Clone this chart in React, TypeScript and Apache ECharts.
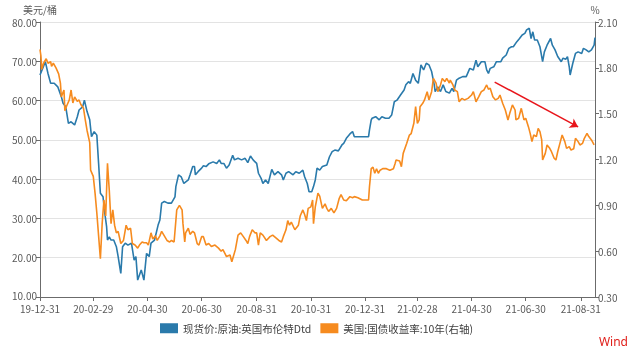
import React, { useEffect, useRef } from 'react';
import * as echarts from 'echarts';

const startDate = '2019-12-31';
const endDate = '2021-09-16';
const xTickDates = ['2019-12-31', '2020-02-29', '2020-04-30', '2020-06-30', '2020-08-31', '2020-10-31', '2020-12-31', '2021-02-28', '2021-04-30', '2021-06-30', '2021-08-31'];

const brentName = '现货价:原油:英国布伦特Dtd';
const yieldName = '美国:国债收益率:10年(右轴)';

const brentDates = [
  '2019-12-31', '2020-01-03', '2020-01-06', '2020-01-09', '2020-01-12', '2020-01-16', '2020-01-20', '2020-01-24', '2020-01-26', '2020-01-29',
  '2020-02-01', '2020-02-04', '2020-02-08', '2020-02-11', '2020-02-13', '2020-02-17', '2020-02-19', '2020-02-22', '2020-02-25', '2020-02-27',
  '2020-03-01', '2020-03-04', '2020-03-06', '2020-03-08', '2020-03-11', '2020-03-13', '2020-03-15', '2020-03-16', '2020-03-18', '2020-03-20',
  '2020-03-23', '2020-03-26', '2020-03-28', '2020-03-31', '2020-04-02', '2020-04-05', '2020-04-08', '2020-04-12', '2020-04-15', '2020-04-17',
  '2020-04-19', '2020-04-23', '2020-04-26', '2020-04-29', '2020-05-02', '2020-05-04', '2020-05-08', '2020-05-12', '2020-05-14', '2020-05-16',
  '2020-05-19', '2020-05-23', '2020-05-27', '2020-05-31', '2020-06-01', '2020-06-04', '2020-06-07', '2020-06-10', '2020-06-15', '2020-06-17',
  '2020-06-20', '2020-06-22', '2020-06-23', '2020-06-26', '2020-06-30', '2020-07-02', '2020-07-05', '2020-07-08', '2020-07-13', '2020-07-17',
  '2020-07-20', '2020-07-22', '2020-07-25', '2020-07-28', '2020-07-31', '2020-08-04', '2020-08-06', '2020-08-10', '2020-08-14', '2020-08-18',
  '2020-08-21', '2020-08-24', '2020-08-27', '2020-08-31', '2020-09-02', '2020-09-05', '2020-09-07', '2020-09-10', '2020-09-13', '2020-09-17',
  '2020-09-20', '2020-09-24', '2020-09-28', '2020-09-30', '2020-10-03', '2020-10-06', '2020-10-11', '2020-10-14', '2020-10-18', '2020-10-22',
  '2020-10-24', '2020-10-27', '2020-10-29', '2020-11-01', '2020-11-03', '2020-11-05', '2020-11-07', '2020-11-10', '2020-11-13', '2020-11-18',
  '2020-11-21', '2020-11-24', '2020-11-27', '2020-12-01', '2020-12-05', '2020-12-07', '2020-12-10', '2020-12-14', '2020-12-17', '2020-12-19',
  '2020-12-28', '2021-01-04', '2021-01-05', '2021-01-07', '2021-01-08', '2021-01-12', '2021-01-16', '2021-01-19', '2021-01-23', '2021-01-27',
  '2021-01-30', '2021-02-02', '2021-02-05', '2021-02-09', '2021-02-13', '2021-02-15', '2021-02-18', '2021-02-20', '2021-02-23', '2021-02-26',
  '2021-03-01', '2021-03-04', '2021-03-07', '2021-03-10', '2021-03-13', '2021-03-16', '2021-03-19', '2021-03-20', '2021-03-23', '2021-03-26',
  '2021-03-29', '2021-04-01', '2021-04-05', '2021-04-08', '2021-04-10', '2021-04-13', '2021-04-16', '2021-04-20', '2021-04-24', '2021-04-28',
  '2021-05-02', '2021-05-05', '2021-05-07', '2021-05-11', '2021-05-15', '2021-05-17', '2021-05-19', '2021-05-21', '2021-05-25', '2021-05-28',
  '2021-06-02', '2021-06-04', '2021-06-08', '2021-06-11', '2021-06-14', '2021-06-16', '2021-06-20', '2021-06-23', '2021-06-26', '2021-06-29',
  '2021-07-01', '2021-07-04', '2021-07-06', '2021-07-08', '2021-07-10', '2021-07-13', '2021-07-16', '2021-07-19', '2021-07-21', '2021-07-24',
  '2021-07-28', '2021-07-30', '2021-08-02', '2021-08-05', '2021-08-09', '2021-08-11', '2021-08-14', '2021-08-16', '2021-08-18', '2021-08-19',
  '2021-08-22', '2021-08-25', '2021-08-28', '2021-09-01', '2021-09-03', '2021-09-06', '2021-09-09', '2021-09-12', '2021-09-15', '2021-09-16',
];
const brentValues = [
  66.5, 68.2, 69.9, 66.9, 64.4, 64.4, 63.5, 61.0, 59.3, 58.4,
  54.2, 54.6, 53.8, 55.9, 57.6, 58.4, 60.1, 57.2, 55.1, 50.8,
  52.1, 51.2, 44.0, 36.4, 35.5, 31.3, 27.9, 24.5, 25.3, 24.5,
  24.5, 22.8, 20.3, 16.0, 22.8, 23.7, 23.2, 23.7, 19.4, 20.3,
  14.3, 16.9, 14.3, 21.1, 20.3, 23.7, 24.5, 28.3, 29.6, 33.9,
  34.3, 33.9, 33.9, 35.5, 38.1, 41.1, 40.6, 38.9, 39.8, 41.1,
  43.2, 43.2, 41.1, 41.9, 42.8, 43.4, 43.2, 43.9, 44.4, 44.0,
  44.9, 44.0, 44.0, 42.8, 43.6, 46.1, 44.9, 45.3, 44.9, 45.3,
  44.2, 45.9, 44.9, 44.0, 41.5, 40.2, 38.9, 39.8, 38.9, 42.5,
  41.1, 41.9, 41.1, 39.8, 41.5, 41.9, 41.1, 41.9, 41.5, 42.3,
  40.6, 38.9, 36.8, 36.8, 38.1, 39.8, 42.8, 42.3, 43.2, 43.6,
  45.7, 47.0, 47.4, 47.2, 48.7, 49.1, 50.4, 51.5, 52.1, 50.8,
  50.8, 50.8, 52.5, 55.1, 55.5, 55.9, 55.1, 55.9, 55.5, 55.5,
  56.3, 59.7, 60.1, 61.4, 62.7, 64.0, 64.8, 64.4, 66.9, 65.2,
  64.4, 69.1, 67.8, 69.5, 69.1, 67.4, 64.0, 62.3, 63.5, 62.3,
  64.0, 62.3, 61.9, 63.1, 62.3, 65.2, 65.7, 66.1, 66.1, 68.2,
  67.8, 70.3, 68.6, 69.9, 69.9, 67.8, 66.9, 68.2, 68.6, 69.9,
  69.9, 70.8, 71.6, 73.3, 73.7, 73.7, 75.0, 75.8, 76.7, 77.1,
  78.0, 78.4, 75.8, 77.5, 75.4, 75.4, 73.7, 69.9, 72.4, 74.1,
  75.8, 74.1, 72.9, 71.2, 69.9, 70.8, 70.5, 71.2, 68.6, 66.5,
  69.5, 72.0, 72.4, 72.0, 73.3, 72.9, 72.4, 72.9, 74.1, 76.0,
];

const yieldDates = [
  '2019-12-31', '2020-01-01', '2020-01-02', '2020-01-04', '2020-01-07', '2020-01-09', '2020-01-12', '2020-01-13', '2020-01-15', '2020-01-18',
  '2020-01-21', '2020-01-23', '2020-01-24', '2020-01-27', '2020-01-28', '2020-01-30', '2020-02-02', '2020-02-04', '2020-02-06', '2020-02-08',
  '2020-02-11', '2020-02-13', '2020-02-15', '2020-02-18', '2020-02-20', '2020-02-22', '2020-02-25', '2020-02-26', '2020-02-29', '2020-03-02',
  '2020-03-04', '2020-03-06', '2020-03-08', '2020-03-10', '2020-03-12', '2020-03-14', '2020-03-16', '2020-03-18', '2020-03-20', '2020-03-22',
  '2020-03-24', '2020-03-26', '2020-03-28', '2020-03-31', '2020-04-03', '2020-04-06', '2020-04-08', '2020-04-11', '2020-04-13', '2020-04-16',
  '2020-04-19', '2020-04-21', '2020-04-24', '2020-04-26', '2020-04-29', '2020-05-01', '2020-05-04', '2020-05-06', '2020-05-09', '2020-05-11',
  '2020-05-14', '2020-05-16', '2020-05-19', '2020-05-22', '2020-05-25', '2020-05-27', '2020-05-30', '2020-06-02', '2020-06-05', '2020-06-08',
  '2020-06-09', '2020-06-11', '2020-06-12', '2020-06-15', '2020-06-17', '2020-06-20', '2020-06-22', '2020-06-25', '2020-06-27', '2020-06-30',
  '2020-07-02', '2020-07-05', '2020-07-08', '2020-07-11', '2020-07-15', '2020-07-19', '2020-07-22', '2020-07-24', '2020-07-28', '2020-08-01',
  '2020-08-03', '2020-08-04', '2020-08-07', '2020-08-10', '2020-08-13', '2020-08-16', '2020-08-19', '2020-08-21', '2020-08-23', '2020-08-26',
  '2020-08-29', '2020-08-31', '2020-09-02', '2020-09-04', '2020-09-07', '2020-09-11', '2020-09-15', '2020-09-18', '2020-09-22', '2020-09-25',
  '2020-09-28', '2020-09-30', '2020-10-03', '2020-10-05', '2020-10-07', '2020-10-09', '2020-10-13', '2020-10-17', '2020-10-19', '2020-10-22',
  '2020-10-24', '2020-10-26', '2020-10-28', '2020-10-31', '2020-11-02', '2020-11-03', '2020-11-05', '2020-11-08', '2020-11-10', '2020-11-13',
  '2020-11-16', '2020-11-18', '2020-11-20', '2020-11-23', '2020-11-26', '2020-11-29', '2020-12-02', '2020-12-04', '2020-12-07', '2020-12-10',
  '2020-12-14', '2020-12-17', '2020-12-19', '2020-12-23', '2020-12-28', '2021-01-04', '2021-01-05', '2021-01-07', '2021-01-09', '2021-01-11',
  '2021-01-13', '2021-01-15', '2021-01-17', '2021-01-20', '2021-01-24', '2021-01-28', '2021-02-01', '2021-02-03', '2021-02-04', '2021-02-08',
  '2021-02-10', '2021-02-12', '2021-02-16', '2021-02-19', '2021-02-21', '2021-02-24', '2021-02-26', '2021-02-28', '2021-03-02', '2021-03-03',
  '2021-03-06', '2021-03-08', '2021-03-11', '2021-03-13', '2021-03-16', '2021-03-18', '2021-03-21', '2021-03-23', '2021-03-26', '2021-03-28',
  '2021-03-31', '2021-04-02', '2021-04-05', '2021-04-06', '2021-04-09', '2021-04-11', '2021-04-14', '2021-04-16', '2021-04-19', '2021-04-22',
  '2021-04-26', '2021-04-30', '2021-05-02', '2021-05-05', '2021-05-08', '2021-05-11', '2021-05-14', '2021-05-17', '2021-05-19', '2021-05-21',
  '2021-05-24', '2021-05-27', '2021-05-30', '2021-06-01', '2021-06-04', '2021-06-07', '2021-06-10', '2021-06-12', '2021-06-15', '2021-06-18',
  '2021-06-19', '2021-06-22', '2021-06-25', '2021-06-28', '2021-06-30', '2021-07-03', '2021-07-05', '2021-07-07', '2021-07-09', '2021-07-12',
  '2021-07-14', '2021-07-16', '2021-07-18', '2021-07-19', '2021-07-22', '2021-07-24', '2021-07-27', '2021-07-29', '2021-08-01', '2021-08-03',
  '2021-08-05', '2021-08-08', '2021-08-10', '2021-08-13', '2021-08-15', '2021-08-18', '2021-08-20', '2021-08-23', '2021-08-25', '2021-08-28',
  '2021-08-30', '2021-09-02', '2021-09-04', '2021-09-07', '2021-09-09', '2021-09-12', '2021-09-15',
];
const yieldValues = [
  1.92, 1.88, 1.79, 1.83, 1.86, 1.83, 1.84, 1.81, 1.83, 1.80,
  1.76, 1.70, 1.61, 1.655, 1.52, 1.55, 1.59, 1.655, 1.57, 1.61,
  1.58, 1.59, 1.56, 1.535, 1.46, 1.39, 1.31, 1.13, 1.09, 0.98,
  0.85, 0.70, 0.55, 0.78, 0.935, 0.83, 1.175, 1.00, 0.78, 0.87,
  0.77, 0.72, 0.73, 0.65, 0.67, 0.77, 0.74, 0.75, 0.65, 0.64,
  0.62, 0.64, 0.66, 0.655, 0.655, 0.64, 0.72, 0.68, 0.70, 0.67,
  0.70, 0.73, 0.70, 0.67, 0.66, 0.67, 0.66, 0.87, 0.90, 0.87,
  0.78, 0.66, 0.72, 0.75, 0.71, 0.73, 0.72, 0.65, 0.64, 0.695,
  0.695, 0.64, 0.65, 0.63, 0.64, 0.62, 0.60, 0.61, 0.565, 0.575,
  0.53, 0.55, 0.61, 0.705, 0.72, 0.695, 0.67, 0.65, 0.695, 0.74,
  0.72, 0.72, 0.64, 0.72, 0.705, 0.67, 0.695, 0.705, 0.685, 0.67,
  0.66, 0.695, 0.74, 0.80, 0.77, 0.79, 0.74, 0.77, 0.83, 0.87,
  0.84, 0.80, 0.88, 0.89, 0.935, 0.78, 0.89, 0.98, 0.96, 0.88,
  0.91, 0.88, 0.86, 0.88, 0.85, 0.88, 0.946, 0.97, 0.935, 0.93,
  0.957, 0.95, 0.957, 0.95, 0.935, 0.935, 1.02, 1.14, 1.15, 1.11,
  1.14, 1.11, 1.13, 1.14, 1.14, 1.13, 1.14, 1.175, 1.197, 1.19,
  1.153, 1.24, 1.306, 1.36, 1.37, 1.437, 1.546, 1.437, 1.459, 1.546,
  1.568, 1.59, 1.644, 1.59, 1.644, 1.731, 1.70, 1.644, 1.688, 1.731,
  1.709, 1.731, 1.70, 1.72, 1.688, 1.655, 1.644, 1.578, 1.60, 1.59,
  1.60, 1.622, 1.644, 1.578, 1.61, 1.644, 1.655, 1.688, 1.66, 1.666,
  1.611, 1.59, 1.60, 1.622, 1.568, 1.524, 1.459, 1.502, 1.557, 1.524,
  1.459, 1.47, 1.535, 1.459, 1.47, 1.415, 1.371, 1.317, 1.36, 1.35,
  1.404, 1.382, 1.328, 1.197, 1.24, 1.295, 1.273, 1.251, 1.208, 1.197,
  1.251, 1.317, 1.36, 1.317, 1.273, 1.284, 1.262, 1.27, 1.339, 1.317,
  1.295, 1.306, 1.339, 1.371, 1.35, 1.328, 1.295,
];

const arrowFrom = ['2021-05-26', 1.707];
const arrowTo = ['2021-08-28', 1.413];

const BLUE = '#2a7aab';
const ORANGE = '#f68b1f';
const FONT = "'Microsoft YaHei','Noto Sans CJK SC',sans-serif";

function buildDays(start: string, end: string): string[] {
  const out: string[] = [];
  const s = Date.parse(start + 'T00:00:00Z');
  const e = Date.parse(end + 'T00:00:00Z');
  for (let t = s; t <= e; t += 86400000) out.push(new Date(t).toISOString().slice(0, 10));
  return out;
}

export default function App() {
  const ref = useRef<HTMLDivElement>(null);
  useEffect(() => {
    if (!ref.current) return;
    const chart = echarts.init(ref.current, undefined, { renderer: 'svg' });
    const days = buildDays(startDate, endDate);
    const tickSet = new Set(xTickDates);
    const showTick = (_i: number, v: string) => tickSet.has(v);
    const axisGray = '#6b6b6b';
    const labelGray = '#595959';
    chart.setOption({
      animation: false,
      textStyle: { fontFamily: FONT },
      grid: { left: 40, right: 45, top: 22, bottom: 56, containLabel: false },
      legend: {
        left: 160,
        top: 323,
        padding: 0,
        icon: 'rect',
        itemWidth: 18,
        itemHeight: 10,
        itemGap: 9,
        textStyle: { fontSize: 10.5, color: '#404040', fontFamily: FONT },
        data: [brentName, yieldName],
      },
      xAxis: {
        type: 'category',
        data: days,
        boundaryGap: false,
        axisLine: { lineStyle: { color: axisGray } },
        axisTick: { interval: showTick, length: 4, lineStyle: { color: axisGray } },
        axisLabel: {
          interval: showTick,
          formatter: (v: string) => v.slice(2),
          color: labelGray,
          fontSize: 10,
          margin: 6,
          lineHeight: 10,
          fontFamily: FONT,
        },
        splitLine: { show: false },
      },
      yAxis: [
        {
          type: 'value',
          min: 10,
          max: 80,
          interval: 10,
          name: '美元/桶',
          nameGap: 8,
          nameTextStyle: { color: labelGray, fontSize: 10, fontFamily: FONT },
          axisLine: { show: true, lineStyle: { color: axisGray } },
          axisTick: { show: true, length: 4, lineStyle: { color: axisGray } },
          axisLabel: {
            formatter: (v: number) => (v === 10 ? '{low|' + v.toFixed(2) + '}' : v.toFixed(2)),
            color: labelGray,
            fontSize: 10,
            lineHeight: 10,
            margin: 3,
            fontFamily: FONT,
            rich: { low: { color: labelGray, fontSize: 10, lineHeight: 10, fontFamily: FONT, padding: [0, 0, 4, 0] } },
          },
          splitLine: { show: true, lineStyle: { color: '#e3e3e3', width: 1 } },
        },
        {
          type: 'value',
          position: 'right',
          min: 0.3,
          max: 2.1,
          interval: 0.3,
          name: '%',
          nameGap: 8,
          nameTextStyle: { color: labelGray, fontSize: 10, fontFamily: FONT },
          axisLine: { show: true, lineStyle: { color: axisGray } },
          axisTick: { show: true, length: 4, lineStyle: { color: axisGray } },
          axisLabel: { formatter: (v: number) => v.toFixed(2), color: labelGray, fontSize: 10, margin: 3, fontFamily: FONT },
          splitLine: { show: false },
        },
      ],
      series: [
        {
          name: brentName,
          type: 'line',
          yAxisIndex: 0,
          showSymbol: false,
          symbol: 'none',
          color: BLUE,
          lineStyle: { color: BLUE, width: 1.6 },
          data: brentDates.map((d, i) => [d, brentValues[i]]),
        },
        {
          name: yieldName,
          type: 'line',
          yAxisIndex: 1,
          showSymbol: false,
          symbol: 'none',
          color: ORANGE,
          lineStyle: { color: ORANGE, width: 1.6 },
          data: yieldDates.map((d, i) => [d, yieldValues[i]]),
          markLine: {
            silent: true,
            symbol: ['none', 'arrow'],
            symbolSize: 8,
            label: { show: false },
            lineStyle: { color: '#e8151b', width: 1.5, type: 'solid' },
            data: [[{ coord: arrowFrom }, { coord: arrowTo }]],
          },
        },
      ],
      graphic: [
        {
          type: 'text',
          right: 12,
          top: 335,
          style: { text: 'Wind', fill: '#e0201b', fontSize: 12, fontFamily: 'Noto Sans, sans-serif' },
        },
      ],
    });
    return () => chart.dispose();
  }, []);
  return <div ref={ref} style={{ position: 'fixed', left: 0, top: 0, width: 640, height: 353 }} />;
}
